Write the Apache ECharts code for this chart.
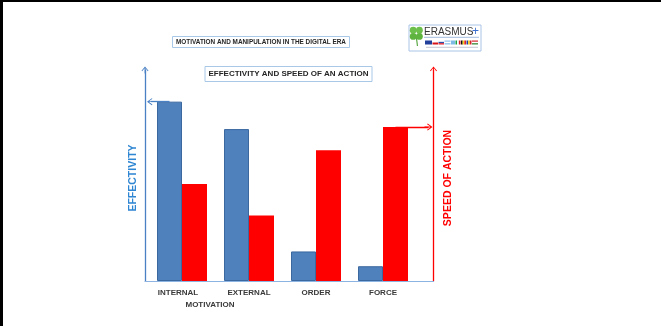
<!DOCTYPE html>
<html>
<head>
<meta charset="utf-8">
<script src="https://cdn.jsdelivr.net/npm/echarts@6/dist/echarts.min.js"></script>
<style>
html,body{margin:0;padding:0;background:#fff;}
#chart{width:661px;height:326px;}
</style>
</head>
<body>
<div id="chart"></div>
<script>
// ---- data ----
const categories = ['INTERNAL\nMOTIVATION', 'EXTERNAL', 'ORDER', 'FORCE'];
const effectivity = [85, 72, 14, 7];
const speed = [46, 31, 62, 73];
const mainTitle = 'MOTIVATION AND MANIPULATION IN THE DIGITAL ERA';
const subTitle = 'EFFECTIVITY AND SPEED OF AN ACTION';
const leftAxisName = 'EFFECTIVITY';
const rightAxisName = 'SPEED OF ACTION';
const logoText = 'ERASMUS';

// ---- styles ----
const BLUE_BAR = '#4f81bd';
const BLUE_AXIS = '#4a80c4';
const BLUE_NAME = '#2f86d2';
const RED = '#ff0000';
const FONT = 'Liberation Sans, Arial, sans-serif';
const chevron = 'path://M5,0 L10,6 L9,6.8 L5.6,2.6 L5.6,10 L4.4,10 L4.4,2.6 L1,6.8 L0,6 Z';

const chart = echarts.init(document.getElementById('chart'), null, {renderer: 'canvas'});

function flag(x, parts, vertical, w) {
  const els = [];
  const h = 4, y = 40.5;
  parts.forEach((c, i) => {
    if (vertical) {
      els.push({type: 'rect', shape: {x: x + i * w / parts.length, y: y, width: w / parts.length, height: h}, style: {fill: c}});
    } else {
      els.push({type: 'rect', shape: {x: x, y: y + i * h / parts.length, width: w, height: h / parts.length}, style: {fill: c}});
    }
  });
  return els;
}

const logo = [].concat(
  [{type: 'rect', shape: {x: 409, y: 25, width: 72, height: 26}, style: {fill: '#fff', stroke: '#a9c4e6', lineWidth: 1}},
   {type: 'line', shape: {x1: 416, y1: 35, x2: 417.5, y2: 46}, style: {stroke: '#5aa845', lineWidth: 1.2}},
   {type: 'circle', shape: {cx: 413.2, cy: 30.2, r: 3.4}, style: {fill: '#6cbf4a'}},
   {type: 'circle', shape: {cx: 419.4, cy: 30.2, r: 3.4}, style: {fill: '#6cbf4a'}},
   {type: 'circle', shape: {cx: 413.2, cy: 36.4, r: 3.4}, style: {fill: '#5fb43f'}},
   {type: 'circle', shape: {cx: 419.4, cy: 36.4, r: 3.4}, style: {fill: '#5fb43f'}},
   {type: 'text', x: 424, y: 32, style: {text: logoText, font: '10px ' + FONT, fill: '#333', textVerticalAlign: 'middle'}},
   {type: 'text', x: 472, y: 31.5, style: {text: '+', font: '12px ' + FONT, fill: '#3a6fd0', textVerticalAlign: 'middle'}},
   {type: 'line', shape: {x1: 424, y1: 37.3, x2: 479, y2: 37.3}, style: {stroke: '#8aa9d6', lineWidth: 0.8}},
   {type: 'line', shape: {x1: 426, y1: 47.3, x2: 478, y2: 47.3}, style: {stroke: '#b8b8c8', lineWidth: 0.8}}],
  flag(425, ['#233f9c'], false, 7),
  flag(432.5, ['#ffffff', '#d7141a'], false, 5.5),
  flag(438.5, ['#ffffff', '#2b4fa8', '#e0202a'], false, 5.5),
  flag(444.5, ['#8fc0ea', '#ffffff', '#8fc0ea'], false, 6),
  flag(451, ['#7fb9e6'], false, 4),
  flag(455.5, ['#159e46', '#ffffff', '#d2232b'], true, 5),
  flag(461, ['#111111', '#f7d417', '#e0202a'], true, 5),
  flag(466.5, ['#1f3f9c', '#f9d11a', '#d2232b'], true, 5),
  flag(472, ['#d2232b', '#ffffff', '#3c8a3a'], false, 6)
);

const option = {
  animation: false,
  backgroundColor: '#ffffff',
  title: [
    {
      text: mainTitle, left: 172, top: 36,
      padding: [3, 4],
      borderColor: '#a9c8e8', borderWidth: 1,
      textStyle: {fontSize: 6.4, fontWeight: 'bold', color: '#262626', fontFamily: FONT}
    },
    {
      text: subTitle, left: 205, top: 66,
      padding: [4, 3.5],
      borderColor: '#a9c8e8', borderWidth: 1,
      textStyle: {fontSize: 8, fontWeight: 'bold', color: '#262626', fontFamily: FONT}
    }
  ],
  grid: [
    {left: 148.5, right: 244.5, top: 70, bottom: 45},
    {left: 145, right: 227.5, top: 70, bottom: 45}
  ],
  xAxis: [
    {
      gridIndex: 0, type: 'category', data: categories,
      axisLine: {show: false}, axisTick: {show: false},
      axisLabel: {
        margin: 6, interval: 0,
        color: '#3a3a3a', fontSize: 8, fontWeight: 'bold', fontFamily: FONT,
        lineHeight: 12,
        formatter: function (v) {
          const parts = v.split('\n');
          if (parts.length > 1) return '{a|' + parts[0] + '}\n{b|' + parts[1] + '}';
          return v;
        },
        rich: {
          a: {padding: [0, 8, 0, 0], fontSize: 8, fontWeight: 'bold', color: '#3a3a3a', fontFamily: FONT, lineHeight: 12},
          b: {padding: [0, 0, 0, 56], fontSize: 8, fontWeight: 'bold', color: '#3a3a3a', fontFamily: FONT, lineHeight: 12}
        }
      }
    },
    {
      gridIndex: 1, type: 'value', min: 0, max: 1,
      axisLine: {show: true, onZero: false, lineStyle: {color: '#8db3e2', width: 1.2}},
      axisTick: {show: false}, axisLabel: {show: false}, splitLine: {show: false}
    }
  ],
  yAxis: [
    {gridIndex: 0, type: 'value', min: 0, max: 100, show: false},
    {
      gridIndex: 1, type: 'value', min: 0, max: 100, position: 'left',
      name: leftAxisName, nameLocation: 'middle', nameRotate: 90, nameGap: 6,
      nameTextStyle: {color: BLUE_NAME, fontSize: 10.5, fontWeight: 'bold', fontFamily: FONT, padding: [0, 5, 0, 0]},
      axisLine: {show: true, onZero: false, symbol: ['none', chevron], symbolSize: [7, 8],
        lineStyle: {color: BLUE_AXIS, width: 1.3}},
      axisTick: {show: false}, axisLabel: {show: false}, splitLine: {show: false}
    },
    {
      gridIndex: 1, type: 'value', min: 0, max: 100, position: 'right',
      name: rightAxisName, nameLocation: 'middle', nameRotate: 90, nameGap: 9,
      nameTextStyle: {color: RED, fontSize: 10.5, fontWeight: 'bold', fontFamily: FONT, padding: [0, 5, 0, 0]},
      axisLine: {show: true, onZero: false, symbol: ['none', chevron], symbolSize: [7, 8],
        lineStyle: {color: RED, width: 1.3}},
      axisTick: {show: false}, axisLabel: {show: false}, splitLine: {show: false}
    }
  ],
  series: [
    {
      name: leftAxisName, type: 'bar', xAxisIndex: 0, yAxisIndex: 0,
      data: effectivity, barWidth: 25, barGap: '0%',
      itemStyle: {color: BLUE_BAR, borderColor: '#3b689f', borderWidth: 1},
      markLine: {
        silent: true, symbol: ['none', chevron], symbolSize: [7, 8],
        label: {show: false},
        lineStyle: {color: BLUE_AXIS, type: 'solid', width: 1.3},
        data: [[{coord: [0, effectivity[0]]}, {coord: [0, effectivity[0]], x: 151}]]
      }
    },
    {
      name: rightAxisName, type: 'bar', xAxisIndex: 0, yAxisIndex: 0,
      data: speed, barWidth: 25, barGap: '0%',
      itemStyle: {color: RED},
      markLine: {
        silent: true, symbol: ['none', chevron], symbolSize: [7, 8],
        label: {show: false},
        lineStyle: {color: RED, type: 'solid', width: 1.3},
        data: [[{coord: [3, speed[3]]}, {coord: [3, speed[3]], x: 428.5}]]
      }
    }
  ],
  graphic: [
    {type: 'rect', left: 0, top: 0, shape: {width: 661, height: 2}, style: {fill: '#000'}},
    {type: 'rect', left: 0, top: 0, shape: {width: 3, height: 326}, style: {fill: '#000'}},
    {type: 'group', children: logo}
  ]
};
chart.setOption(option);
</script>
</body>
</html>
